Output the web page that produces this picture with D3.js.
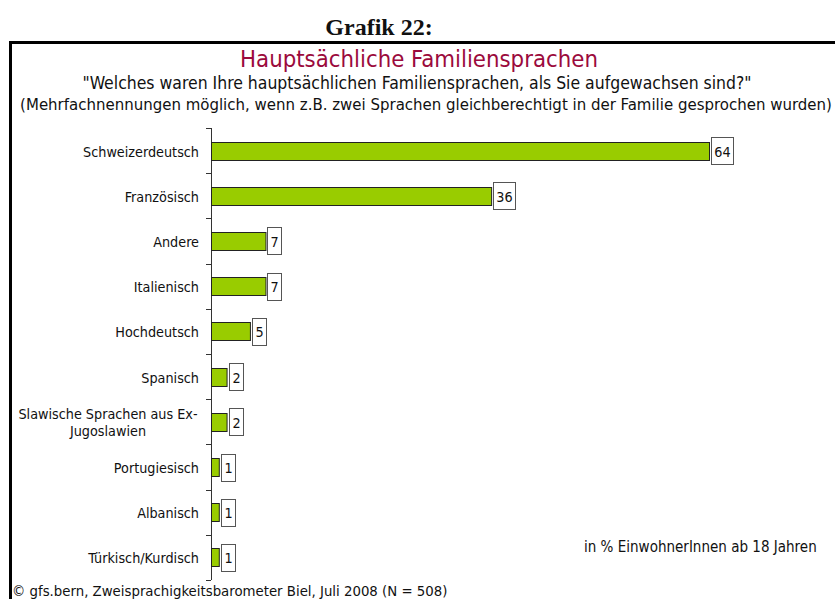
<!DOCTYPE html>
<html>
<head>
<meta charset="utf-8">
<script src="https://cdn.jsdelivr.net/npm/d3@7"></script>
<style>
body { margin: 0; background: #fff; }
svg text { font-family: "DejaVu Sans Condensed", "DejaVu Sans", sans-serif; font-stretch: condensed; fill: #111; }
</style>
</head>
<body>
<svg width="835" height="599"></svg>
<script>
var categories = ["Schweizerdeutsch", "Französisch", "Andere", "Italienisch", "Hochdeutsch",
    "Spanisch", "Slawische Sprachen aus Ex-|Jugoslawien", "Portugiesisch", "Albanisch", "Türkisch/Kurdisch"];
var values = [64, 36, 7, 7, 5, 2, 2, 1, 1, 1];

var svg = d3.select("svg"),
    width = +svg.attr("width"),
    height = +svg.attr("height");

// squeeze a text to the width it has in the original
function fit(sel, w) {
    var fs = parseFloat(sel.attr("font-size"));
    var len = sel.node().getComputedTextLength();
    sel.attr("font-size", fs * w / len);
    return sel;
}

svg.append("text")
    .attr("x", 379).attr("y", 35)
    .attr("text-anchor", "middle")
    .attr("font-size", 24)
    .attr("font-weight", "bold")
    .style("font-family", "'Liberation Serif', serif")
    .style("font-stretch", "normal")
    .text("Grafik 22:");

// frame
svg.append("path")
    .attr("d", "M10.5,600 V42.5 H835")
    .attr("fill", "none")
    .attr("stroke", "#000")
    .attr("stroke-width", 3);

var title = svg.append("text")
    .attr("x", 419).attr("y", 67)
    .attr("text-anchor", "middle")
    .attr("font-size", 24)
    .style("fill", "#9b0a3c")
    .text("Hauptsächliche Familiensprachen");
fit(title, 358);

var sub1 = svg.append("text")
    .attr("x", 417).attr("y", 89)
    .attr("text-anchor", "middle")
    .attr("font-size", 15)
    .text("\"Welches waren Ihre hauptsächlichen Familiensprachen, als Sie aufgewachsen sind?\"");
fit(sub1, 670);

var sub2 = svg.append("text")
    .attr("x", 426).attr("y", 110)
    .attr("text-anchor", "middle")
    .attr("font-size", 15)
    .text("(Mehrfachnennungen möglich, wenn z.B. zwei Sprachen gleichberechtigt in der Familie gesprochen wurden)");
fit(sub2, 812);

var x = d3.scaleLinear().domain([0, 64]).range([211, 709]);
var y = d3.scaleBand().domain(categories).range([128, 580]).paddingInner(0.6).paddingOuter(0.3);
var step = y.step();

// axis with ticks between categories
var axis = svg.append("g");
axis.append("line")
    .attr("x1", 211.5).attr("x2", 211.5)
    .attr("y1", 128).attr("y2", 580)
    .attr("stroke", "#333");
axis.selectAll(".tick")
    .data(d3.range(categories.length + 1))
    .enter().append("line")
    .attr("x1", 206).attr("x2", 211)
    .attr("y1", function(i) { return Math.round(128 + i * step) + 0.5; })
    .attr("y2", function(i) { return Math.round(128 + i * step) + 0.5; })
    .attr("stroke", "#333");

// category labels
var lab = svg.selectAll(".cat")
    .data(categories)
    .enter().append("text")
    .attr("font-size", 14)
    .each(function(d) {
        var t = d3.select(this);
        var lines = d.split("|");
        var cy = y(d) + y.bandwidth() / 2;
        if (lines.length == 1) {
            t.attr("x", 199).attr("y", cy + 6).attr("text-anchor", "end").text(d);
        } else {
            t.attr("text-anchor", "middle");
            lines.forEach(function(l, i) {
                t.append("tspan").attr("x", 108)
                    .attr("y", cy + 6 + (i - 0.5) * 17)
                    .text(l);
            });
        }
    });
// same size for all labels, chosen so "Schweizerdeutsch" is 116 px wide
var w0 = lab.filter(function(d, i) { return i == 0; }).node().getComputedTextLength();
var catSize = 14 * 116 / w0;
lab.attr("font-size", catSize);

// bars
svg.selectAll(".bar")
    .data(values)
    .enter().append("rect")
    .attr("x", x(0) + 0.5)
    .attr("y", function(d, i) { return Math.round(y(categories[i])) + 0.5; })
    .attr("width", function(d) { return x(d) - x(0); })
    .attr("height", Math.round(y.bandwidth()))
    .attr("fill", "#99cc00")
    .attr("stroke", "#222")
    .attr("stroke-width", 1);

// value boxes
var vg = svg.selectAll(".val")
    .data(values)
    .enter().append("g");
vg.each(function(d, i) {
    var g = d3.select(this);
    var cy = y(categories[i]) + y.bandwidth() / 2;
    var bx = x(d) + 2;
    var t = g.append("text")
        .attr("font-size", catSize)
        .attr("y", cy + 6)
        .text(d);
    var tw = t.node().getComputedTextLength();
    var bw = Math.round(tw + 6);
    g.insert("rect", "text")
        .attr("x", Math.round(bx) + 0.5)
        .attr("y", Math.round(cy - 13.5) + 0.5)
        .attr("width", bw)
        .attr("height", 27)
        .attr("fill", "#fff")
        .attr("stroke", "#555");
    t.attr("x", Math.round(bx) + 0.5 + bw / 2).attr("text-anchor", "middle");
});

var note = svg.append("text")
    .attr("x", 584).attr("y", 552)
    .attr("font-size", 14)
    .text("in % EinwohnerInnen ab 18 Jahren");
fit(note, 233);

var foot = svg.append("text")
    .attr("x", 12).attr("y", 596)
    .attr("font-size", 14)
    .text("© gfs.bern, Zweisprachigkeitsbarometer Biel, Juli 2008 (N = 508)");
fit(foot, 436);
</script>
</body>
</html>
